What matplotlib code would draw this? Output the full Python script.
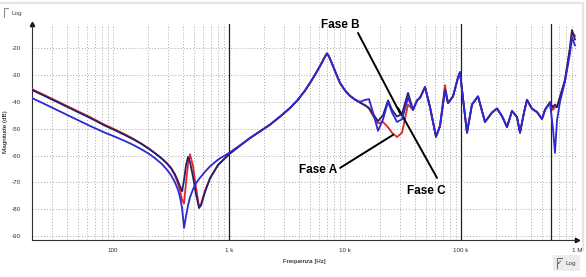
import numpy as np
import matplotlib
matplotlib.use('Agg')
import matplotlib.pyplot as plt
import matplotlib.ticker as ticker

plt.rcParams['font.family'] = ['Liberation Sans', 'DejaVu Sans']

# frequency grid (Hz) shared by the three phases
freq = [20.0, 25.9, 34.9, 47.0, 63.4, 85.3, 104.0, 126.9, 148.7, 177.8, 208.4,
        234.8, 264.5, 292.1, 316.2, 342.3, 363.4, 378.1, 393.4, 409.4, 425.9,
        443.2, 461.1, 489.5, 519.5, 551.3, 573.6, 621.1, 685.9, 803.9, 1000,
        1244, 1517, 1850, 2256, 2753, 3357, 3934, 4521, 5093, 5623, 6088, 6462,
        6723, 6996, 7279, 7727, 8364, 9056, 10000, 11045, 12197, 13470, 14874,
        16106, 17436, 19253, 21265, 23488, 25424, 28077, 31004, 34932, 38579,
        41760, 44331, 48960, 54060, 60880, 65920, 72790, 77270, 85310, 94210,
        98040, 106140, 112640, 124380, 140190, 161080, 185060, 204360, 225650,
        249230, 275290, 304000, 322620, 349300, 370700, 409400, 452100, 499300,
        529900, 585000, 621100, 646000, 672300, 713700, 788200, 870400, 905600,
        961200]

# Fase B (dark navy)
fase_b = [-35.6, -37.9, -40.6, -43.3, -46.0, -48.9, -50.6, -52.4, -53.9, -55.8,
          -57.8, -59.4, -61.2, -62.9, -64.6, -67.0, -69.6, -71.5, -73.3, -69.0,
          -63.5, -60.5, -62.5, -68.0, -74.5, -79.5, -78.5, -73.5, -68.5, -63.5,
          -59.5, -56.3, -53.5, -51.0, -48.5, -45.5, -42.3, -39.2, -35.8, -32.4,
          -29.3, -26.7, -24.6, -23.2, -22.0, -23.2, -25.8, -29.5, -33.0, -35.8,
          -37.8, -39.2, -40.3, -41.3, -42.3, -44.5, -47.2, -45.0, -39.5, -43.0,
          -45.5, -44.5, -36.7, -43.0, -39.5, -38.5, -34.5, -42.0, -53.0, -49.0,
          -35.5, -40.5, -38.0, -31.0, -29.0, -42.0, -51.5, -41.0, -38.0, -47.5,
          -44.0, -42.5, -45.3, -49.4, -43.4, -45.7, -51.5, -44.0, -39.3, -42.6,
          -43.8, -46.4, -43.0, -40.4, -42.0, -41.0, -42.0, -38.2, -31.9, -20.0,
          -13.3, -16.8]

# Fase A (red)
fase_a = [-35.3, -37.6, -40.3, -43.0, -45.7, -48.6, -50.3, -52.1, -53.7, -55.7,
          -57.7, -59.4, -61.2, -63.0, -64.8, -67.5, -70.5, -73.0, -76.5, -77.8,
          -70.0, -63.0, -59.5, -64.0, -72.0, -79.0, -78.0, -73.0, -68.3, -63.5,
          -59.5, -56.3, -53.5, -51.0, -48.5, -45.5, -42.3, -39.2, -35.8, -32.4,
          -29.3, -26.7, -24.6, -23.2, -22.0, -23.2, -25.8, -29.5, -33.0, -35.8,
          -37.8, -39.2, -40.3, -41.3, -42.5, -45.3, -48.0, -47.5, -49.5, -51.5,
          -53.1, -51.5, -41.0, -43.0, -39.5, -38.5, -34.5, -42.0, -53.0, -49.0,
          -33.8, -40.5, -38.0, -31.0, -29.0, -42.0, -51.5, -41.0, -38.0, -47.5,
          -44.0, -42.5, -45.3, -49.4, -43.4, -45.7, -51.5, -44.0, -39.3, -42.6,
          -43.8, -46.4, -43.0, -40.0, -43.0, -42.0, -42.0, -38.2, -31.9, -20.0,
          -14.0, -15.5]

# Fase C (blue)
fase_c = [-38.6, -40.9, -43.6, -46.3, -49.0, -51.5, -53.0, -54.6, -56.0, -57.8,
          -59.6, -61.3, -63.2, -65.3, -67.3, -70.0, -72.8, -75.5, -79.5, -86.9,
          -82.5, -78.5, -75.5, -72.5, -70.3, -68.7, -67.8, -66.0, -64.0, -61.5,
          -59.0, -56.2, -53.4, -51.0, -48.5, -45.5, -42.3, -39.2, -35.8, -32.4,
          -29.3, -26.7, -24.6, -23.2, -22.0, -23.2, -25.8, -29.5, -33.0, -35.8,
          -37.8, -39.2, -40.0, -39.3, -39.0, -44.0, -50.8, -46.5, -40.0, -44.0,
          -47.5, -46.5, -38.5, -43.0, -39.5, -38.5, -34.5, -42.0, -53.0, -49.0,
          -35.5, -40.5, -38.0, -31.0, -29.0, -42.0, -51.5, -41.0, -38.0, -47.5,
          -44.0, -42.5, -45.3, -49.4, -43.4, -45.7, -51.5, -44.0, -39.3, -42.6,
          -43.8, -46.4, -43.0, -40.4, -50.0, -59.0, -47.0, -40.0, -32.5, -22.0,
          -16.0, -19.0]

yticks = [-20, -30, -40, -50, -60, -70, -80, -90]
xticks = [100, 1000, 10000, 100000, 1000000]
xticklabels = ['100', '1 k', '10 k', '100 k', '1 M']

fig = plt.figure(figsize=(5.86, 2.77), dpi=100)
ax = fig.add_axes([0.0546, 0.1336, 0.9300, 0.7794])
ax.set_xscale('log')
ax.set_xlim(20, 1e6)
ax.set_ylim(-91.4, -11.1)

# dotted grid
minor = [m * 10 ** e for e in range(1, 6) for m in range(1, 10)]
minor = [f for f in minor if 20 <= f <= 1e6 and f not in (1000, 100000)]
for f in minor:
    ax.axvline(f, color='#a8a8a8', lw=0.7, ls=(0, (1, 2)), zorder=0)
for y in yticks:
    ax.axhline(y, color='#a8a8a8', lw=0.7, ls=(0, (1, 2)), zorder=0)
for f in [1000, 100000, 600000]:
    ax.axvline(f, color='#202020', lw=0.9, zorder=1)

ax.plot(freq, fase_a, color='#e02828', lw=1.3, zorder=3)
ax.plot(freq, fase_b, color='#23206e', lw=1.3, zorder=4)
ax.plot(freq, fase_c, color='#2a2ad2', lw=1.3, zorder=5)

ax.spines['top'].set_visible(False)
ax.spines['right'].set_visible(False)
ax.spines['left'].set_color('#303030')
ax.spines['bottom'].set_color('#303030')
ax.plot(0, 1, '^', color='k', ms=3, transform=ax.transAxes, clip_on=False)
ax.plot(1, 0, '>', color='k', ms=3, transform=ax.transAxes, clip_on=False)

ax.set_yticks(yticks)
ax.set_yticklabels([str(v) for v in yticks])
ax.xaxis.set_major_locator(ticker.FixedLocator(xticks))
ax.xaxis.set_minor_locator(ticker.NullLocator())
ax.set_xticklabels(xticklabels)
ax.tick_params(axis='both', length=0, labelsize=4.5, colors='#303030')
ax.tick_params(axis='y', pad=8)
ax.tick_params(axis='x', pad=6)
ax.set_ylabel('Magnitude (dB)', fontsize=4.5, labelpad=3)
ax.set_xlabel('Frequenza [Hz]', fontsize=4.5, labelpad=4)

# annotations
lp = dict(arrowstyle='-', lw=1.4, color='k', shrinkA=0, shrinkB=0)
ax.annotate('', xy=(29790, -44.2), xytext=(12940, -14.4), arrowprops=lp, annotation_clip=False)
ax.annotate('', xy=(28640, -42.3), xytext=(62100, -68.3), arrowprops=lp, annotation_clip=False)
ax.annotate('', xy=(25950, -52.3), xytext=(9060, -64.6), arrowprops=lp, annotation_clip=False)
tk = dict(fontsize=8.5, fontweight='bold', ha='center', va='center', zorder=6)
ax.text(9060, -11.4, 'Fase B', clip_on=False, **tk)
ax.text(5850, -65.4, 'Fase A', **tk)
ax.text(49900, -73.2, 'Fase C', **tk)

# window frame and "Log" check boxes
fig.add_artist(plt.Line2D([0, 583 / 586], [1 - 3 / 277, 1 - 3 / 277], color='#e4e4e4', lw=1.5))
fig.add_artist(plt.Line2D([583 / 586, 583 / 586], [1 - 3 / 277, 1 - 250 / 277], color='#e4e4e4', lw=1.5))
fig.add_artist(plt.Line2D([4 / 586, 4 / 586, 8 / 586], [1 - 17 / 277, 1 - 8 / 277, 1 - 8 / 277],
                          color='#909090', lw=0.8))
fig.text(11 / 586, 1 - 13 / 277, 'Log', fontsize=4.5, va='center', color='#404040')
fig.add_artist(plt.Rectangle((553 / 586, 1 - 271 / 277), 27 / 586, 16 / 277,
                             facecolor='#ececec', edgecolor='none'))
fig.add_artist(plt.Line2D([557 / 586, 557 / 586, 562 / 586], [1 - 268 / 277, 1 - 258 / 277, 1 - 258 / 277],
                          color='#707070', lw=0.8))
fig.text(559 / 586, 1 - 263 / 277, '\u2713', fontsize=4.5, va='center', ha='center', color='#202020')
fig.text(565 / 586, 1 - 263 / 277, 'Log', fontsize=4.5, va='center', color='#404040')

fig.savefig('out.png', dpi=100)
